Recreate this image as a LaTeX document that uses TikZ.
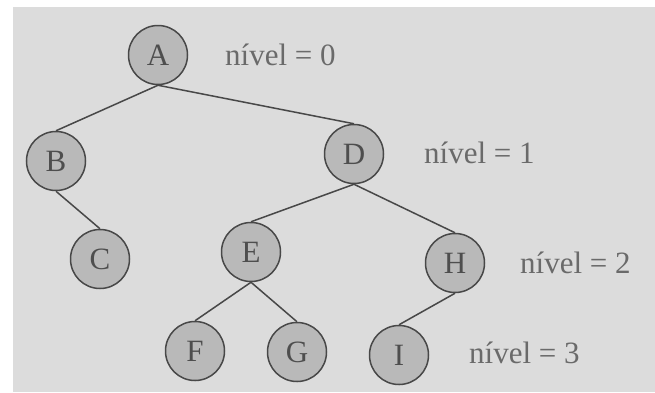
\documentclass[tikz,border=0pt]{standalone}
\usepackage{fontspec}
\setmainfont{Liberation Serif}
\definecolor{bgcol}{HTML}{DCDCDC}
\definecolor{nodefill}{HTML}{B9B9B9}
\definecolor{edgecol}{HTML}{484848}
\definecolor{txtcol}{HTML}{4E4E4E}
\definecolor{lblcol}{HTML}{6A6A6A}
\begin{document}
\begin{tikzpicture}[x=1pt,y=-1pt,
  treenode/.style={circle,draw=edgecol,fill=nodefill,line width=1.5pt,minimum size=59pt,inner sep=0pt,
    font=\fontsize{31}{31}\selectfont,text=txtcol},
  lvl/.style={anchor=west,font=\fontsize{31}{31}\selectfont,text=lblcol,inner sep=0pt},
  edge/.style={draw=edgecol,line width=1.5pt}]
\useasboundingbox (0,0) rectangle (655,392);
\fill[white] (0,0) rectangle (655,392);
\fill[bgcol] (13,7) rectangle (655,392);
\node[treenode] (A) at (158,55) {A};
\node[treenode] (B) at (56,161) {B};
\node[treenode] (D) at (354,154) {D};
\node[treenode] (C) at (100,259) {C};
\node[treenode] (E) at (251,252) {E};
\node[treenode] (H) at (455,263) {H};
\node[treenode] (F) at (195,351) {F};
\node[treenode] (G) at (297,352) {G};
\node[treenode] (I) at (399,355) {I};
\draw[edge] (A.south) -- (B.north);
\draw[edge] (A.south) -- (D.north);
\draw[edge] (B.south) -- (C.north);
\draw[edge] (D.south) -- (E.north);
\draw[edge] (D.south) -- (H.north);
\draw[edge] (E.south) -- (F.north);
\draw[edge] (E.south) -- (G.north);
\draw[edge] (H.south) -- (I.north);
\node[lvl] (l0) at (225,55) {nível = 0};
\node[lvl] (l1) at (424,153) {nível = 1};
\node[lvl] (l2) at (520,263) {nível = 2};
\node[lvl] (l3) at (469,353) {nível = 3};
\end{tikzpicture}
\end{document}
